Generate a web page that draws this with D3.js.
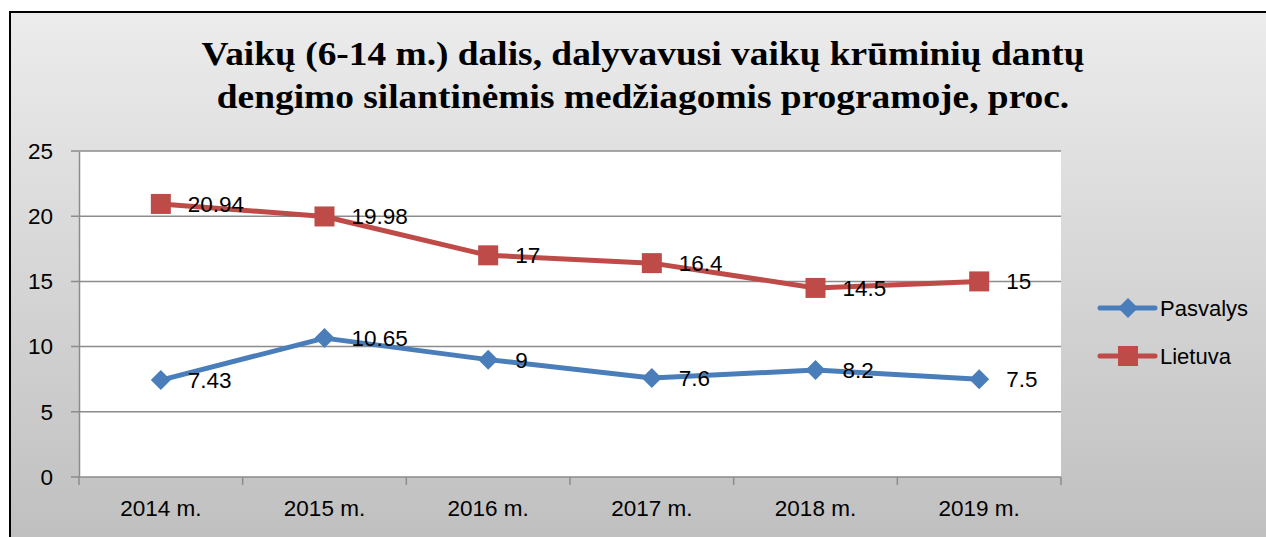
<!DOCTYPE html>
<html>
<head>
<meta charset="utf-8">
<script src="https://cdn.jsdelivr.net/npm/d3@7"></script>
<style>
  body { margin: 0; background: #fff; }
  svg { display: block; }
  text { font-family: "Liberation Sans", Arial, sans-serif; fill: #000; }
</style>
</head>
<body>
<script>
// data
var years = ["2014 m.", "2015 m.", "2016 m.", "2017 m.", "2018 m.", "2019 m."];
var pasvalys = [7.43, 10.65, 9, 7.6, 8.2, 7.5];
var lietuva = [20.94, 19.98, 17, 16.4, 14.5, 15];
var yTicks = [0, 5, 10, 15, 20, 25];
var titleLines = ["Vaikų (6-14 m.) dalis, dalyvavusi vaikų krūminių dantų",
                  "dengimo silantinėmis medžiagomis programoje, proc."];

var W = 1266, H = 537;
var plot = { left: 79, right: 1061, top: 151, bottom: 477 };

var svg = d3.select("body").append("svg")
    .attr("width", W)
    .attr("height", H);

// background gradient
var grad = svg.append("defs").append("linearGradient")
    .attr("id", "bg")
    .attr("x1", 0).attr("y1", 0).attr("x2", 0).attr("y2", 1);
grad.append("stop").attr("offset", "0%").attr("stop-color", "#ececec");
grad.append("stop").attr("offset", "100%").attr("stop-color", "#bdbdbd");

svg.append("rect")
    .attr("x", 10).attr("y", 12)
    .attr("width", W + 20).attr("height", H + 20)
    .attr("fill", "url(#bg)")
    .attr("stroke", "#000")
    .attr("stroke-width", 2);

// title (a bit wider than plain Times, like the picture)
svg.append("text")
    .attr("transform", "translate(643,0) scale(1.1,1)")
    .attr("y", 65)
    .attr("text-anchor", "middle")
    .style("font-family", "'Liberation Serif', 'Times New Roman', serif")
    .style("font-weight", "bold")
    .style("font-size", "34px")
    .selectAll("tspan")
    .data(titleLines)
    .enter()
    .append("tspan")
    .attr("x", 0)
    .attr("dy", (d, i) => i === 0 ? 0 : 43)
    .text(d => d);

// plot area
svg.append("rect")
    .attr("x", plot.left).attr("y", plot.top)
    .attr("width", plot.right - plot.left)
    .attr("height", plot.bottom - plot.top)
    .attr("fill", "#fff");

var x = d3.scaleBand()
    .domain(years)
    .range([plot.left, plot.right]);

var y = d3.scaleLinear()
    .domain([0, 25])
    .range([plot.bottom, plot.top]);

// gridlines
svg.append("g")
    .selectAll("line")
    .data(yTicks)
    .enter()
    .append("line")
    .attr("x1", plot.left - 8)
    .attr("x2", plot.right)
    .attr("y1", d => y(d))
    .attr("y2", d => y(d))
    .attr("stroke", "#8c8c8c")
    .attr("stroke-width", 1.5);

// y axis
var yAxis = d3.axisLeft(y).tickValues(yTicks).tickSize(0).tickPadding(26);
var gy = svg.append("g")
    .attr("transform", "translate(" + plot.left + ",0)")
    .call(yAxis);
gy.select(".domain").attr("stroke", "#8c8c8c").attr("stroke-width", 1.5);
gy.selectAll("text").style("font-size", "22.5px").style("font-family", "'Liberation Sans', Arial, sans-serif");

// x axis
var xAxis = d3.axisBottom(x).tickSize(0).tickPadding(23);
var gx = svg.append("g")
    .attr("transform", "translate(0," + plot.bottom + ")")
    .call(xAxis);
gx.select(".domain").remove();
gx.selectAll("text").style("font-size", "22.5px").style("font-family", "'Liberation Sans', Arial, sans-serif");

// x tick marks at band edges
var edges = years.map(d => x(d)).concat([plot.right]);
svg.append("g")
    .selectAll("line")
    .data(edges)
    .enter()
    .append("line")
    .attr("x1", d => d).attr("x2", d => d)
    .attr("y1", plot.bottom).attr("y2", plot.bottom + 8)
    .attr("stroke", "#8c8c8c")
    .attr("stroke-width", 1.5);

var cx = d => x(d) + x.bandwidth() / 2;

var series = [
    { name: "Pasvalys", values: pasvalys, color: "#4a7ebb", marker: "diamond" },
    { name: "Lietuva", values: lietuva, color: "#be4b48", marker: "square" }
];

var line = d3.line()
    .x((d, i) => cx(years[i]))
    .y(d => y(d));

function drawMarker(g, type, color) {
    if (type === "diamond") {
        g.append("path")
            .attr("d", "M0,-10 L10,0 L0,10 L-10,0 Z")
            .attr("fill", color);
    } else {
        g.append("rect")
            .attr("x", -10).attr("y", -10)
            .attr("width", 20).attr("height", 20)
            .attr("fill", color);
    }
}

series.forEach(function (s) {
    svg.append("path")
        .datum(s.values)
        .attr("d", line)
        .attr("fill", "none")
        .attr("stroke", s.color)
        .attr("stroke-width", 5)
        .attr("stroke-linejoin", "round");

    s.values.forEach(function (v, i) {
        var g = svg.append("g")
            .attr("transform", "translate(" + cx(years[i]) + "," + y(v) + ")");
        drawMarker(g, s.marker, s.color);
    });
});

// data labels
series.forEach(function (s) {
    svg.append("g")
        .selectAll("text")
        .data(s.values)
        .enter()
        .append("text")
        .attr("x", (d, i) => cx(years[i]) + 27)
        .attr("y", d => y(d) + 8)
        .style("font-size", "22.5px")
        .text(d => d);
});

// legend
var legend = svg.append("g");
series.forEach(function (s, i) {
    var ly = 308 + i * 48;
    legend.append("line")
        .attr("x1", 1100).attr("x2", 1155)
        .attr("y1", ly).attr("y2", ly)
        .attr("stroke", s.color)
        .attr("stroke-width", 5)
        .attr("stroke-linecap", "round");
    var g = legend.append("g").attr("transform", "translate(1128," + ly + ")");
    drawMarker(g, s.marker, s.color);
    legend.append("text")
        .attr("x", 1160)
        .attr("y", ly + 8)
        .style("font-size", "22px")
        .text(s.name);
});
</script>
</body>
</html>
